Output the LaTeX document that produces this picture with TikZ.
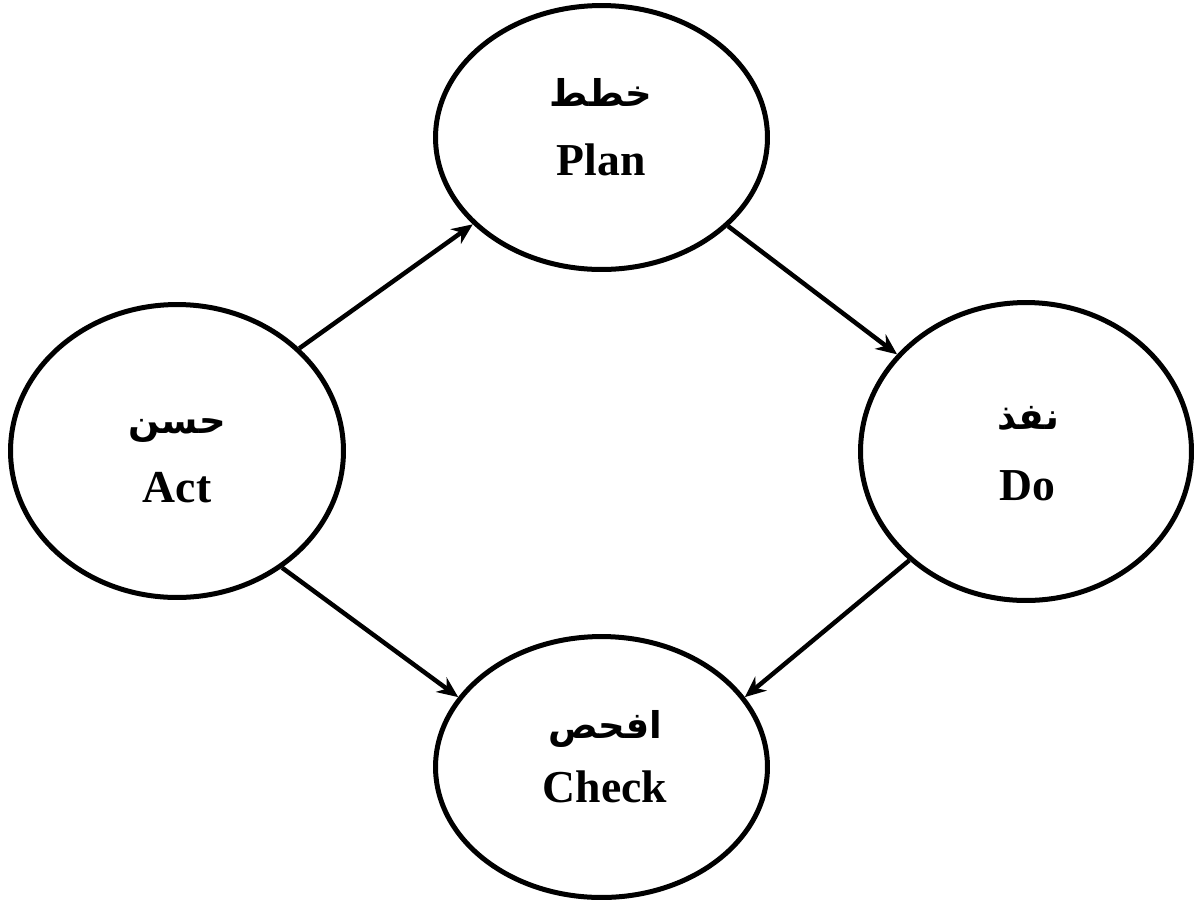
\documentclass[tikz,border=0pt]{standalone}
\usepackage{fontspec}
\setmainfont{Liberation Serif}
\newfontfamily\arabicfont[Script=Arabic]{DejaVu Sans}
\TeXXeTstate=1
\usetikzlibrary{shapes.geometric,arrows.meta}
\begin{document}
\begin{tikzpicture}[x=0.02cm,y=-0.02cm]
		\tikzstyle{phase}=[ellipse,draw=black,line width=0.1cm,inner sep=0pt]
		\tikzstyle{link}=[draw,line width=0.09cm,-{Stealth[length=0.42cm,width=0.36cm]}]
		\tikzstyle{entext}=[font=\fontsize{26}{30}\selectfont\bfseries,anchor=base]
		\tikzstyle{artext}=[font=\fontsize{21}{26}\selectfont\arabicfont\bfseries]
		\useasboundingbox (0,0) rectangle (1196,904);
		\begin{scope}
			\node [phase,minimum width=6.64cm,minimum height=5.28cm] (plan) at (601.5,137.5) {};
			\node [phase,minimum width=6.62cm,minimum height=5.96cm] (do) at (1026,451.5) {};
			\node [phase,minimum width=6.64cm,minimum height=5.22cm] (check) at (601.5,767) {};
			\node [phase,minimum width=6.66cm,minimum height=5.86cm] (act) at (177,451) {};
			% labels
			\node [artext] (plan-ar) at (601,92) {\beginR خطط\endR};
			\node [entext] (plan-en) at (601,175) {Plan};
			\node [artext] (do-ar) at (1028,418) {\beginR نفذ\endR};
			\node [entext] (do-en) at (1027,500) {Do};
			\node [artext] (check-ar) at (605,729) {\beginR افحص\endR};
			\node [entext] (check-en) at (605,802) {Check};
			\node [artext] (act-ar) at (177,431) {\beginR حسن\endR};
			\node [entext] (act-en) at (177,502) {Act};
			% cycle
			\path[link] (act.40) -- (plan.214.5);
			\path[link] (plan.-35.9) -- (do.143.7);
			\path[link] (do.223.5) -- (check.26.7);
			\path[link] (act.-48.5) -- (check.154.8);
		\end{scope}
\end{tikzpicture}
\end{document}
